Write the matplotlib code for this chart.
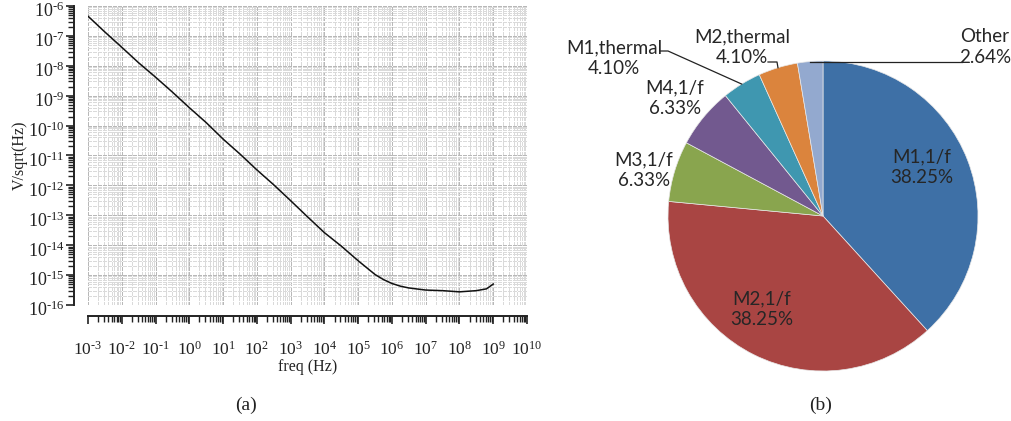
import numpy as np
import matplotlib
matplotlib.use("Agg")
import matplotlib.pyplot as plt
from matplotlib.ticker import LogLocator, FixedLocator, FuncFormatter, NullFormatter
import matplotlib.transforms as mtransforms

# ---------------- data ----------------
freq_exp = [-3, -2.5, -2, -1.5, -1, -0.5, 0, 0.5, 1, 1.5, 2, 2.5, 3, 3.5, 4,
            4.5, 5, 5.5, 5.75, 6, 6.25, 6.5, 7, 7.5, 8, 8.5, 8.8, 9]
noise_exp = [-6.34, -6.87, -7.38, -7.90, -8.38, -8.88, -9.40, -9.90, -10.45,
             -10.95, -11.48, -11.98, -12.51, -13.05, -13.58, -14.03, -14.52,
             -14.98, -15.15, -15.28, -15.37, -15.43, -15.50, -15.52, -15.56,
             -15.52, -15.46, -15.30]
freq = [10.0 ** e for e in freq_exp]
noise = [10.0 ** e for e in noise_exp]

x_decades = list(range(-3, 11))      # 10^-3 ... 10^10
y_decades = list(range(-16, -5))     # 10^-16 ... 10^-6

pie_labels = ["M1,1/f", "M2,1/f", "M3,1/f", "M4,1/f", "M1,thermal", "M2,thermal", "Other"]
pie_values = [38.25, 38.25, 6.33, 6.33, 4.10, 4.10, 2.64]
pie_colors = ["#3E70A6", "#A94543", "#89A54E", "#72598F", "#3F97B0", "#DB843D", "#93A9CF"]

# ---------------- style ----------------
plt.rcParams['font.family'] = ['Liberation Serif', 'DejaVu Serif']
plt.rcParams['mathtext.fontset'] = 'custom'
plt.rcParams['mathtext.rm'] = 'Liberation Serif'
plt.rcParams['mathtext.it'] = 'Liberation Serif:italic'
plt.rcParams['mathtext.bf'] = 'Liberation Serif:bold'
plt.rcParams['lines.scale_dashes'] = False

W, H = 1012, 421
fig = plt.figure(figsize=(W / 100, H / 100), dpi=100)

# ---------------- left: noise spectrum ----------------
x0, x1 = 88, 527
y0, y1 = 6, 305
ax = fig.add_axes([x0 / W, 1 - y1 / H, (x1 - x0) / W, (y1 - y0) / H])
ax.plot(freq, noise, color='#111111', lw=1.1, zorder=3)
ax.set_xscale('log')
ax.set_yscale('log')
ax.set_xlim(10.0 ** x_decades[0], 10.0 ** x_decades[-1])
ax.set_ylim(10.0 ** y_decades[0], 10.0 ** y_decades[-1])


def pow_fmt(v, pos):
    e = int(round(np.log10(v)))
    s = (r'\text{-}%d' % -e) if e < 0 else '%d' % e
    return r'$\mathdefault{10^{%s}}$' % s


ax.xaxis.set_major_locator(FixedLocator([10.0 ** e for e in x_decades]))
ax.yaxis.set_major_locator(FixedLocator([10.0 ** e for e in y_decades]))
ax.xaxis.set_minor_locator(LogLocator(base=10, subs=np.arange(2, 10), numticks=300))
ax.yaxis.set_minor_locator(LogLocator(base=10, subs=np.arange(2, 10), numticks=300))
ax.xaxis.set_major_formatter(FuncFormatter(pow_fmt))
ax.yaxis.set_major_formatter(FuncFormatter(pow_fmt))
ax.xaxis.set_minor_formatter(NullFormatter())
ax.yaxis.set_minor_formatter(NullFormatter())

for s in ['top', 'right']:
    ax.spines[s].set_visible(False)
ax.spines['left'].set_position(('outward', 10))
ax.spines['bottom'].set_position(('outward', 8))
for s in ['left', 'bottom']:
    ax.spines[s].set_color('#222222')
    ax.spines[s].set_linewidth(1.4)

ax.tick_params(which='major', direction='out', length=6, width=1.2, color='#222222',
               labelsize=12.5, labelcolor='#222222')
ax.tick_params(which='minor', direction='out', length=4, width=1.0, color='#222222')
ax.tick_params(axis='x', which='major', pad=12)
ax.tick_params(axis='y', which='major', pad=1, labelsize=13)

ax.grid(True, which='major', color='#b8b8b8', ls=(0, (2.5, 1.3)), lw=0.75, antialiased=False)
ax.grid(True, which='minor', color='#dadada', ls=(0, (2.5, 1.3)), lw=0.75, antialiased=False)

for lab in ax.get_yticklabels():
    lab.set_va('top')
    lab.set_transform(lab.get_transform() + mtransforms.ScaledTranslation(0, 4 / 100, fig.dpi_scale_trans))

ax.set_xlabel('freq (Hz)', fontsize=11.5, color='#222222', labelpad=0)
ax.set_ylabel('V/sqrt(Hz)', fontsize=11.5, color='#222222', labelpad=0)

fig.text(246 / W, 1 - 405 / H, '(a)', ha='center', va='center', fontsize=14, color='#222222')
fig.text(821 / W, 1 - 405 / H, '(b)', ha='center', va='center', fontsize=14, color='#222222')

# ---------------- right: pie ----------------
cx, cy, R = 823, 216, 155
ax2 = fig.add_axes([(cx - R) / W, 1 - (cy + R) / H, 2 * R / W, 2 * R / H])
wedges, _ = ax2.pie(pie_values, colors=pie_colors, startangle=90, counterclock=False,
                    wedgeprops=dict(edgecolor='#e8e8e8', linewidth=0.5))
ax2.set_xlim(-1, 1)
ax2.set_ylim(-1, 1)
ax2.set_aspect('auto')
ax2.axis('off')


def px(x, y):
    return ((x - cx) / R, (cy - y) / R)


pie_font = dict(family=['Lato', 'DejaVu Sans'], fontsize=13.5, color='#262626',
                va='center', linespacing=1.3)

texts = [f"{l}\n{v:.2f}%" for l, v in zip(pie_labels, pie_values)]
label_pos = [px(922, 167), px(762, 309), px(644, 170), px(675, 98),
             px(614, 58), px(742, 47), px(1011, 47)]
label_ha = ['center'] * 6 + ['right']
for t, p, h in zip(texts, label_pos, label_ha):
    ax2.text(p[0], p[1], t, clip_on=False, ha=h, multialignment='center', **pie_font)


def edge_point(i):
    w = wedges[i]
    ang = np.deg2rad((w.theta1 + w.theta2) / 2)
    return (np.cos(ang), np.sin(ang))


# leader lines
e = edge_point(4)
a, b = px(660, 51), px(668, 51)
ax2.plot([a[0], b[0], e[0]], [a[1], b[1], e[1]], color='#222222', lw=0.9, clip_on=False)
e = edge_point(5)
a, b = px(768, 62), px(777, 62)
ax2.plot([a[0], b[0], e[0]], [a[1], b[1], e[1]], color='#222222', lw=0.9, clip_on=False)
e = edge_point(6)
a = px(962, 62)
ax2.plot([a[0], e[0]], [a[1], a[1]], color='#222222', lw=0.9, clip_on=False)

fig.savefig('out.png', dpi=100)
